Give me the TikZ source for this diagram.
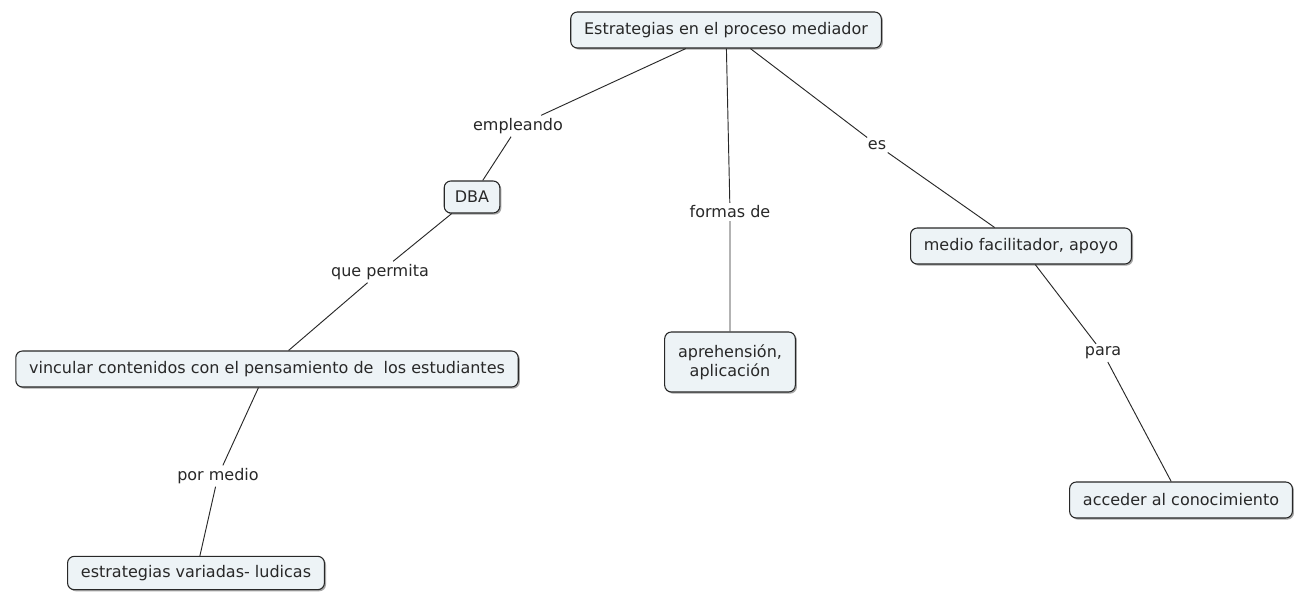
\documentclass[tikz,border=0pt]{standalone}
\usepackage{fontspec}
\setmainfont{DejaVu Sans}
\usetikzlibrary{shadows}
\definecolor{boxfill}{RGB}{237,243,246}
\definecolor{ink}{RGB}{40,40,40}

\begin{document}
\begin{tikzpicture}[x=0.75pt, y=-0.75pt,
    concept/.style = {draw=ink, fill=boxfill, rounded corners=5pt, line width=0.8pt, inner xsep=10pt, minimum height=27pt, font=\fontsize{12}{14.5}\selectfont, text=ink, align=center,
        drop shadow={shadow xshift=1.2pt, shadow yshift=-1.2pt, fill=black!35, opacity=1}},
    link/.style = {font=\fontsize{12}{14.5}\selectfont, text=ink, inner sep=2pt},
    conn/.style = {draw=ink, line width=0.7pt}]
    \path[use as bounding box, fill=white] (0,0) rectangle (1301,592);

    \node[concept] (estrategias) at (726,30) {Estrategias en el proceso mediador};
    \node[concept, minimum height=24pt, inner xsep=8pt] (dba) at (472,197) {DBA};
    \node[concept, minimum height=45pt] (aprehension) at (730,362) {aprehensión,\\aplicación};
    \node[concept] (vincular) at (267,369) {vincular contenidos con el pensamiento de\ \ los estudiantes};
    \node[concept, minimum height=25pt] (variadas) at (196,573) {estrategias variadas- ludicas};
    \node[concept] (medio) at (1021,246) {medio facilitador, apoyo};
    \node[concept] (acceder) at (1181,500) {acceder al conocimiento};

    \node[link] (empleando) at (518,126) {empleando};
    \node[link] (formas) at (730,212) {formas de};
    \node[link] (es) at (877,145) {es};
    \node[link] (permita) at (380,272) {que permita};
    \node[link] (por medio) at (218,476) {por medio};
    \node[link] (para) at (1103,353) {para};

    \draw[conn] (estrategias) -- (empleando) -- (dba);
    \draw[conn] (estrategias) -- (formas) -- (aprehension);
    \draw[conn] (estrategias) -- (es) -- (medio);
    \draw[conn] (dba) -- (permita) -- (vincular);
    \draw[conn] (vincular) -- (por medio) -- (variadas);
    \draw[conn] (medio) -- (para) -- (acceder);
\end{tikzpicture}
\end{document}
